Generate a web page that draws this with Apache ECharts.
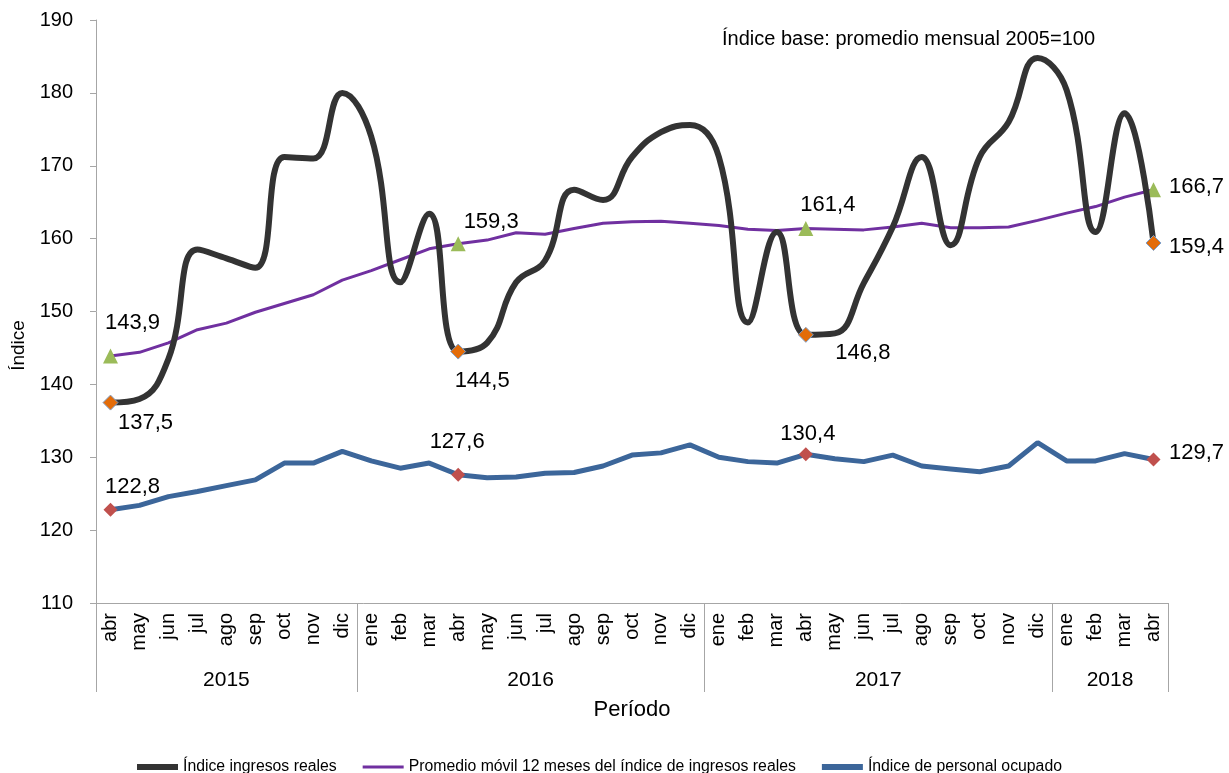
<!DOCTYPE html>
<html>
<head>
<meta charset="utf-8">
<script src="https://cdn.jsdelivr.net/npm/echarts@6.0.0/dist/echarts.min.js"></script>
<style>
  html, body { margin: 0; padding: 0; background: #fff; }
  #chart { width: 1229px; height: 773px; }
</style>
</head>
<body>
<div id="chart"></div>
<script>
// meses abr 2015 - abr 2018
const months = [
  'abr', 'may', 'jun', 'jul', 'ago', 'sep', 'oct', 'nov', 'dic',
  'ene', 'feb', 'mar', 'abr', 'may', 'jun', 'jul', 'ago', 'sep', 'oct', 'nov', 'dic',
  'ene', 'feb', 'mar', 'abr', 'may', 'jun', 'jul', 'ago', 'sep', 'oct', 'nov', 'dic',
  'ene', 'feb', 'mar', 'abr'
]
const years = ['2015', '2016', '2017', '2018']
const monthsPerYear = [9, 12, 12, 4]

const ingresosReales = [
  137.5, 138.0, 143.5, 158.5, 157.3, 156.0, 171.2, 171.0, 180.0,
  174.0, 154.0, 163.4, 144.5, 145.7, 154.0, 157.0, 166.7, 165.3, 171.2, 174.6, 175.6,
  171.2, 148.5, 160.9, 146.8, 147.0, 153.9, 161.6, 171.2, 159.1, 171.2, 176.0, 184.8,
  180.4, 160.9, 177.2, 159.4
]
const promedioMovil = [
  143.9, 144.4, 145.7, 147.5, 148.4, 149.9, 151.1, 152.3, 154.3,
  155.6, 157.1, 158.6, 159.3, 159.8, 160.8, 160.6, 161.4, 162.1, 162.3, 162.4, 162.1,
  161.8, 161.3, 161.1, 161.4, 161.3, 161.2, 161.6, 162.1, 161.5, 161.5, 161.6, 162.5,
  163.5, 164.4, 165.7, 166.7
]
const personalOcupado = [
  122.8, 123.4, 124.6, 125.3, 126.1, 126.9, 129.2, 129.2, 130.8,
  129.5, 128.5, 129.2, 127.6, 127.2, 127.3, 127.8, 127.9, 128.8, 130.3, 130.6, 131.7,
  130.0, 129.4, 129.2, 130.4, 129.8, 129.4, 130.3, 128.8, 128.4, 128.0, 128.8, 132.0,
  129.5, 129.5, 130.5, 129.7
]
// puntos destacados (abril de cada año)
const marked = [0, 12, 24, 36]

const fontFamily = '"Liberation Sans", Arial, sans-serif'
const fmt = v => v.toFixed(1).replace('.', ',')

// limites y centros de cada año sobre el eje de categorias
const yearBounds = [0]
monthsPerYear.forEach(n => yearBounds.push(yearBounds[yearBounds.length - 1] + n))
const yearMids = years.map((y, i) => (yearBounds[i] + yearBounds[i + 1]) / 2)

function withMarkers(values, symbol, symbolSize, color, offsets, border) {
  return values.map((v, i) => {
    const k = marked.indexOf(i)
    if (k < 0) return v
    return {
      value: v,
      symbol: symbol,
      symbolSize: symbolSize,
      itemStyle: border ? { color: color, borderColor: border, borderWidth: 1 } : { color: color },
      label: {
        show: true,
        position: 'inside',
        offset: offsets[k],
        formatter: p => fmt(p.value),
        color: '#000',
        fontSize: 22,
        fontFamily: fontFamily,
      },
    }
  })
}

const chart = echarts.init(document.getElementById('chart'), null, { renderer: 'canvas' })
const option = {
  animation: false,
  backgroundColor: '#fff',
  textStyle: { fontFamily: fontFamily },
  title: {
    text: 'Índice base: promedio mensual 2005=100',
    left: 717,
    top: 24,
    textStyle: { fontSize: 20, fontWeight: 'normal', color: '#000', fontFamily: fontFamily },
  },
  legend: {
    left: 132,
    top: 754,
    itemWidth: 41,
    itemHeight: 14,
    itemGap: 26,
    textStyle: { fontSize: 15.8, color: '#000', fontFamily: fontFamily },
    data: [
      { name: 'Índice ingresos reales', icon: 'path://M0,0H42V6H0Z' },
      { name: 'Promedio móvil 12 meses del índice de ingresos reales', icon: 'path://M0,0H42V3H0Z' },
      { name: 'Índice de personal ocupado', icon: 'path://M0,0H42V6H0Z' },
    ],
  },
  grid: { left: 96, right: 61, top: 20, bottom: 170, outerBoundsMode: 'none' },
  xAxis: [
    {
      type: 'category',
      data: months,
      boundaryGap: true,
      name: 'Período',
      nameLocation: 'middle',
      nameGap: 96,
      nameTextStyle: { fontSize: 22, color: '#000' },
      axisLine: { show: true, lineStyle: { color: '#a6a6a6', width: 1 } },
      axisTick: { show: false },
      axisLabel: { interval: 0, rotate: 90, fontSize: 20, color: '#000', margin: 10 },
    },
    {
      type: 'value',
      position: 'bottom',
      min: 0,
      max: months.length,
      axisLine: { show: false },
      splitLine: { show: false },
      axisTick: {
        show: true,
        customValues: yearBounds,
        length: 89,
        lineStyle: { color: '#a6a6a6', width: 1 },
      },
      axisLabel: {
        customValues: yearMids,
        formatter: v => years[yearMids.indexOf(v)],
        margin: 67,
        fontSize: 21,
        color: '#000',
      },
    },
  ],
  yAxis: {
    type: 'value',
    min: 110,
    max: 190,
    interval: 10,
    name: 'Índice',
    nameLocation: 'middle',
    nameGap: 66,
    nameTextStyle: { fontSize: 19, color: '#000', padding: [0, 68, 0, 0] },
    axisLine: { show: true, lineStyle: { color: '#a6a6a6', width: 1 } },
    axisTick: { show: true, length: 6, lineStyle: { color: '#a6a6a6' } },
    splitLine: { show: false },
    axisLabel: { fontSize: 20, color: '#000', margin: 23 },
  },
  series: [
    {
      name: 'Índice ingresos reales',
      type: 'line',
      smooth: 0.45,
      z: 4,
      symbol: 'none',
      color: '#333333',
      lineStyle: { color: '#333333', width: 6 },
      data: withMarkers(ingresosReales, 'diamond', 15, '#e36c09', [[35, 20], [24, 29], [57, 18], [43, 4]], '#7f9fc8'),
    },
    {
      name: 'Promedio móvil 12 meses del índice de ingresos reales',
      type: 'line',
      z: 3,
      symbol: 'none',
      color: '#7030a0',
      lineStyle: { color: '#7030a0', width: 3 },
      data: withMarkers(promedioMovil, 'triangle', 15, '#9bbb59', [[22, -33], [33, -22], [22, -23], [43, -3]]),
    },
    {
      name: 'Índice de personal ocupado',
      type: 'line',
      z: 2,
      symbol: 'none',
      color: '#3c669a',
      lineStyle: { color: '#3c669a', width: 5 },
      data: withMarkers(personalOcupado, 'diamond', 14, '#c0504d', [[22, -23], [-1, -33], [2, -20], [43, -6]]),
    },
  ],
}
chart.setOption(option)
</script>
</body>
</html>
